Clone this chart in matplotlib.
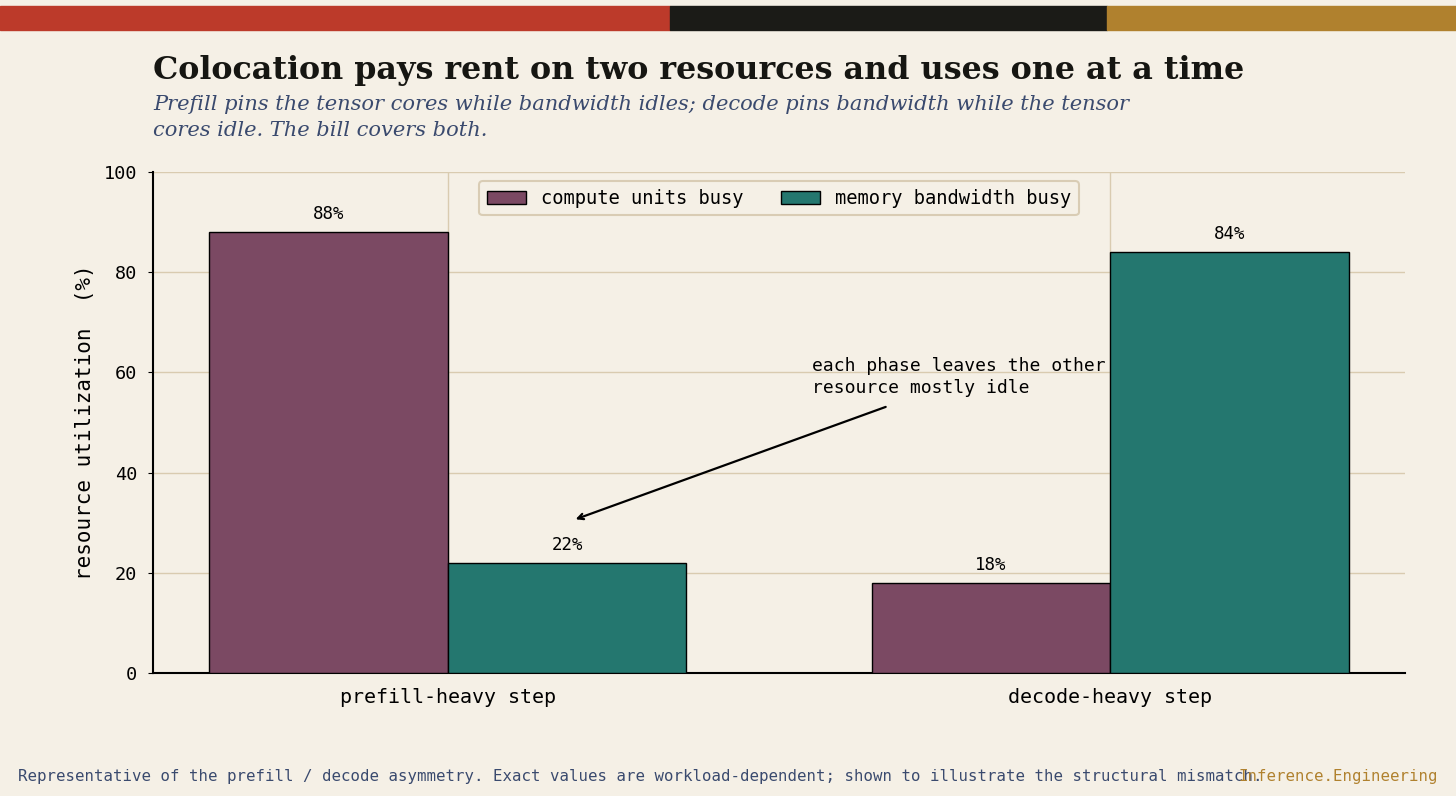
import numpy as np
import matplotlib.pyplot as plt
from matplotlib.patches import Rectangle

# data
steps = ["prefill-heavy step", "decode-heavy step"]
compute_busy = [88, 18]
memory_busy = [22, 84]

bg = "#F5F0E6"
c_compute = "#7B4963"
c_memory = "#24776F"
grid_c = "#D9CBB0"
navy = "#3A4A6E"
gold = "#B0812E"

plt.rcParams['font.family'] = 'DejaVu Sans Mono'

fig = plt.figure(figsize=(14.56, 7.96), dpi=100, facecolor=bg)
ax = fig.add_axes([153/1456, 1 - 673/796, (1405-153)/1456, (673-172)/796])
ax.set_facecolor(bg)

# top stripe
for x0, x1, col in [(0, 670, "#BC3A2A"), (670, 1107, "#1B1B17"), (1107, 1456, gold)]:
    fig.patches.append(Rectangle((x0/1456, 1 - 30/796), (x1-x0)/1456, 24/796,
                                 transform=fig.transFigure, color=col, zorder=0))

x = np.arange(len(steps))
w = 0.36
b1 = ax.bar(x - w/2, compute_busy, w, color=c_compute, edgecolor="black", linewidth=1,
            label="compute units busy", zorder=3)
b2 = ax.bar(x + w/2, memory_busy, w, color=c_memory, edgecolor="black", linewidth=1,
            label="memory bandwidth busy", zorder=3)
for bars in (b1, b2):
    for r in bars:
        ax.text(r.get_x() + r.get_width()/2, r.get_height() + 1.8, "%d%%" % r.get_height(),
                ha="center", va="bottom", fontsize=12.5, zorder=4)

ax.set_xlim(-0.445, 1.445)
ax.set_ylim(0, 100)
ax.set_xticks(x)
ax.set_xticklabels(steps, fontsize=14.4)
ax.set_yticks(range(0, 101, 20))
ax.tick_params(axis="y", labelsize=13.3, pad=8)
ax.tick_params(axis="x", length=0, pad=11)
ax.grid(True, color=grid_c, linewidth=1, zorder=0)
ax.set_ylabel("resource utilization  (%)", fontsize=15, labelpad=6)
for s in ["top", "right"]:
    ax.spines[s].set_visible(False)
ax.spines["left"].set_linewidth(1.5)
ax.spines["bottom"].set_linewidth(1.5)

leg = ax.legend(loc="upper center", ncol=2, fontsize=13.5, frameon=True,
                bbox_to_anchor=(0.5, 1.0), handlelength=2.1, columnspacing=2.0)
leg.get_frame().set_facecolor(bg)
leg.get_frame().set_edgecolor("#D2C4A8")
leg.get_frame().set_linewidth(1.5)

ax.text(0.55, 63.1, "each phase leaves the other\nresource mostly idle",
        ha="left", va="top", fontsize=13, linespacing=1.3, zorder=5)
ax.annotate("", xy=(0.189, 30.5), xytext=(0.665, 53.3),
            arrowprops=dict(arrowstyle="->", color="black", lw=1.6), zorder=5)

fig.text(153/1456, 1 - 70/796, "Colocation pays rent on two resources and uses one at a time",
         family="DejaVu Serif", weight="bold", fontsize=22.9, va="center", ha="left", color="#161612")
fig.text(153/1456, 1 - 95/796,
         "Prefill pins the tensor cores while bandwidth idles; decode pins bandwidth while the tensor\ncores idle. The bill covers both.",
         family="DejaVu Serif", style="italic", fontsize=15.15, va="top", ha="left", color=navy,
         linespacing=1.45)
fig.text(18/1456, 1 - 777/796,
         "Representative of the prefill / decode asymmetry. Exact values are workload-dependent; shown to illustrate the structural mismatch.",
         fontsize=11.3, color=navy, va="center", ha="left")
fig.text(1438/1456, 1 - 777/796, "Inference.Engineering", fontsize=11.3, color=gold,
         va="center", ha="right")

fig.savefig("out.png", dpi=100, facecolor=bg)
